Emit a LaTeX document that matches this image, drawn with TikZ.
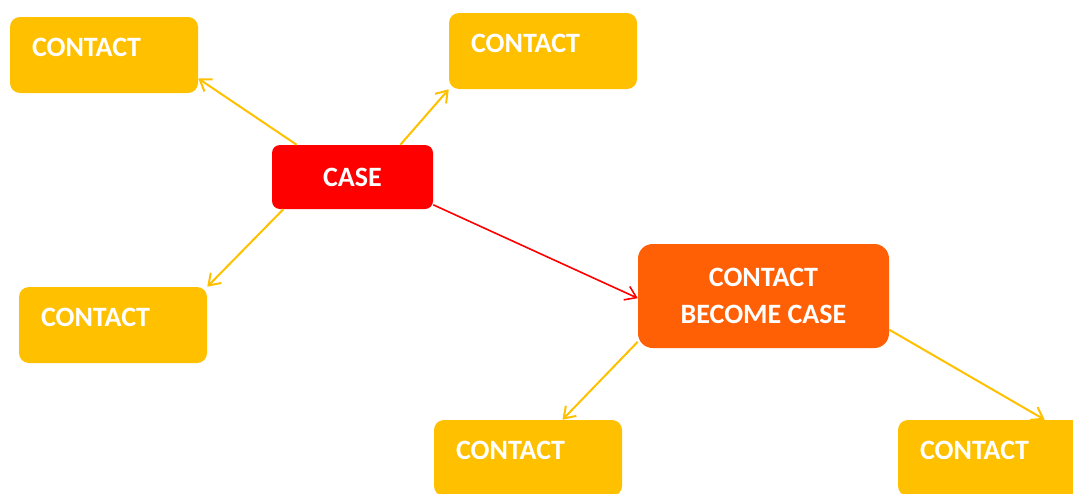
\documentclass[tikz,border=0pt]{standalone}
\usepackage{fontspec}
\setmainfont{Carlito}
\usepackage{tikz}
\usetikzlibrary{arrows.meta}
\usetikzlibrary{positioning}
\definecolor{contactcolour}{HTML}{FFC000}
\definecolor{casecolour}{HTML}{FF0000}
\definecolor{becomecolour}{HTML}{FF5F05}
\tikzset{>={Straight Barb[length=8pt,width=11pt]}}
\newcommand\linkwd{1.5pt}
\tikzset{%
  box/.style={text=white, font=\fontsize{21}{28}\selectfont\bfseries},
  contact/.style={box, fill=contactcolour, rounded corners=7.5pt,
    text width=108pt, align=left, inner xsep=16.5pt, inner ysep=7.5pt,
    text height=22pt, text depth=20pt},
  case/.style={box, fill=casecolour, rounded corners=6pt,
    minimum width=120.75pt, minimum height=48pt},
  becomecase/.style={box, fill=becomecolour, rounded corners=11pt, align=center,
    minimum width=188.25pt, minimum height=78pt},
  link/.style={->, line width=\linkwd, color=contactcolour},
  caselink/.style={->, line width=1.2pt, color=casecolour}
}

\begin{document}
\begin{tikzpicture}[x=0.75pt, y=-0.75pt]
  \clip (0, 0) rectangle (1073, 493);
  \node[case] (case) at (352.5, 177) {CASE};
  \node[becomecase] (cbc) at (763.5, 296) {CONTACT\\BECOME CASE};
  \node[contact] (con1) at (104, 55) {CONTACT};
  \node[contact] (con2) at (543, 51) {CONTACT};
  \node[contact] (con3) at (113, 325) {CONTACT};
  \node[contact] (con4) at (528, 458) {CONTACT};
  \node[contact] (con5) at (992, 458) {CONTACT};
  % links from the case
  \draw[link] (case.150.9) -- (con1.-14.9);
  \draw[link] (case.34) -- (con2.south west);
  \draw[link] (case.205.4) -- (con3.north east);
  \draw[caselink] (case.-19.2) -- (cbc.181.8);
  % links from the new case
  \draw[link] (cbc.200.5) -- (con4.48.2);
  \draw[link] (cbc.-15.2) -- (con5.36.7);
\end{tikzpicture}
\end{document}
